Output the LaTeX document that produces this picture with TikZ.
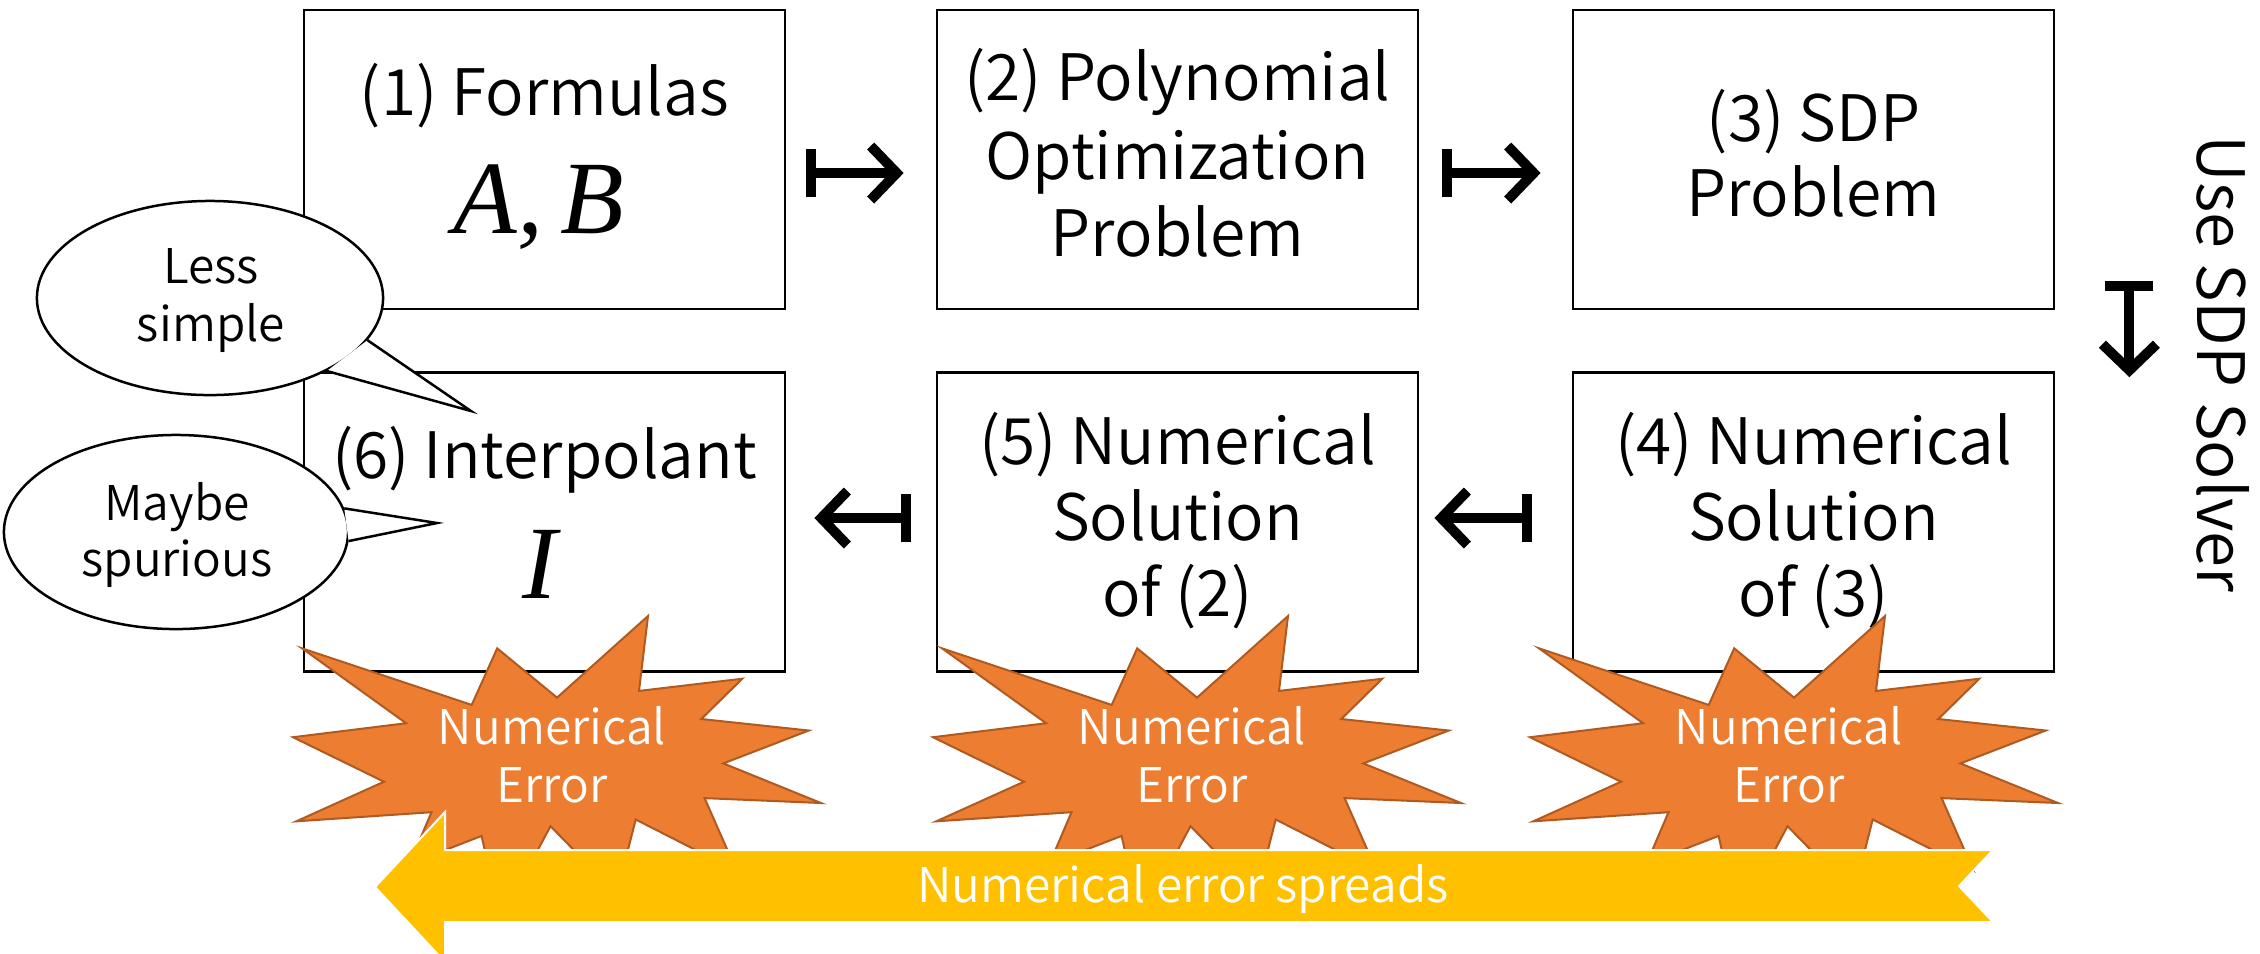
\documentclass[tikz,border=0pt]{standalone}
\usepackage{fontspec}
\IfFontExistsTF{Noto Sans CJK JP DemiLight}
  {\newfontfamily\jpfont{Noto Sans CJK JP DemiLight}}
  {\newfontfamily\jpfont{Noto Sans CJK JP}}
\newfontfamily\serifit{Liberation Serif}
\usetikzlibrary{arrows.meta,calc,shapes.geometric}
\definecolor{burstfill}{HTML}{ED7D31}
\definecolor{burstline}{HTML}{AE5A21}
\definecolor{spreadfill}{HTML}{FFC000}

\tikzset{
  stagebox/.style={draw=black, line width=0.025cm, minimum width=4.81cm,
    minimum height=2.99cm, inner sep=0pt},
  boxline/.style={font=\jpfont\fontsize{18.2}{22}\selectfont, anchor=base, inner sep=0pt},
  varline/.style={font=\serifit\itshape\fontsize{29.6}{35}\selectfont, anchor=base, inner sep=0pt},
  mapsarrow/.style={line width=0.1cm,
    arrows={Bar[width=0.48cm]-Straight Barb[length=0.26cm,width=0.54cm]}},
  bubble/.style={ellipse, draw=black, fill=white, line width=0.025cm, inner sep=0pt},
  bubtail/.style={draw=black, line width=0.025cm, line join=miter},
  bubtext/.style={font=\jpfont\fontsize{13.6}{16}\selectfont, anchor=base, inner sep=0pt},
  burstshape/.style={fill=burstfill, draw=burstline, line width=0.02cm, line join=miter},
  bursttext/.style={font=\jpfont\fontsize{13.6}{16}\selectfont, text=white, anchor=base, inner sep=0pt},
}

% explosion outline, origin at its top-left corner (528 x 304 px)
\newcommand\burst[2]{%
  \draw[burstshape, shift={(#1,#2)}]
    (264.0,81.6) -- (355.0,0) -- (346.0,74.9) -- (449.3,62.7) -- (408.3,103.0)
    -- (515.7,114.5) -- (430.4,147.4) -- (528.0,187.0) -- (411.6,182.1)
    -- (443.5,254.7) -- (342.7,203.5) -- (323.8,277.8) -- (257.5,210.2)
    -- (207.4,304.0) -- (188.6,219.9) -- (116.4,247.9) -- (138.5,196.2)
    -- (3.3,205.3) -- (91.0,165.7) -- (0,121.2) -- (113.1,107.2)
    -- (9.0,32.3) -- (178.7,88.9) -- (204.2,32.3) -- cycle;}

\begin{document}
\begin{tikzpicture}[x=0.01cm, y=-0.01cm]
\useasboundingbox (0,0) rectangle (2260,953);
\clip (0,0) rectangle (2260,953);

% stage boxes
\node[stagebox] (box1) at (544.5,159.5) {};
\node[stagebox] (box2) at (1177.5,159.5) {};
\node[stagebox] (box3) at (1813.5,159.5) {};
\node[stagebox] (box6) at (544.5,522) {};
\node[stagebox] (box5) at (1177.5,522) {};
\node[stagebox] (box4) at (1813.5,522) {};

% box contents
\node[boxline] (t1a) at (544.5,115) {(1) Formulas};
\node[varline] (t1b) at (539,233) {A,\,B};
\node[boxline] (t2a) at (1177.5,100) {(2) Polynomial};
\node[boxline] (t2b) at (1177.5,179) {Optimization};
\node[boxline] (t2c) at (1177.5,256) {Problem};
\node[boxline] (t3a) at (1813.5,141) {(3) SDP};
\node[boxline] (t3b) at (1813.5,216) {Problem};
\node[boxline] (t4a) at (1813.5,464) {(4) Numerical};
\node[boxline] (t4b) at (1813.5,540) {Solution};
\node[boxline] (t4c) at (1813.5,616) {of (3)};
\node[boxline] (t5a) at (1177.5,464) {(5) Numerical};
\node[boxline] (t5b) at (1177.5,540) {Solution};
\node[boxline] (t5c) at (1177.5,616) {of (2)};
\node[boxline] (t6a) at (544.5,478) {(6) Interpolant};
\node[varline] (t6b) at (540,598) {I};

% maps-to connectors
\draw[mapsarrow] ($(box1.east)+(20,13.5)$) -- ($(box2.west)+(-32,13.5)$);
\draw[mapsarrow] ($(box2.east)+(23,13.5)$) -- ($(box3.west)+(-31,13.5)$);
\draw[mapsarrow] ($(box3.south east)+(74,-29)$) -- ($(box4.north east)+(74,6)$);
\draw[mapsarrow] ($(box4.west)+(-40,-4)$) -- ($(box5.east)+(15,-4)$);
\draw[mapsarrow] ($(box5.west)+(-25,-4)$) -- ($(box6.east)+(28,-4)$);

\node[font=\jpfont\fontsize{18.6}{22}\selectfont, rotate=-90, anchor=base, inner sep=0pt]
  (solver) at (2197,364) {Use SDP Solver};

% speech bubbles
\node[bubble, minimum width=3.46cm, minimum height=1.94cm] (bub1) at (210,298) {};
\fill[white] (bub1.-15.8) -- (471,411) -- (bub1.-32.4) -- cycle;
\draw[bubtail] (bub1.-15.8) -- (471,411) -- (bub1.-32.4);
\node[bubtext] (bub1a) at (211,283) {Less};
\node[bubtext] (bub1b) at (211,341) {simple};

\node[bubble, minimum width=3.44cm, minimum height=1.94cm] (bub2) at (176,532) {};
\fill[white] (bub2.8.2) -- (437,523) -- (bub2.-3.7) -- cycle;
\draw[bubtail] (bub2.8.2) -- (437,523) -- (bub2.-3.7);
\node[bubtext] (bub2a) at (177,520) {Maybe};
\node[bubtext] (bub2b) at (177,576) {spurious};

% numerical error explosions
\burst{293}{616}
\burst{933}{616}
\burst{1530}{616}
\node[bursttext] (e1a) at (552,744) {Numerical};
\node[bursttext] (e1b) at (552,802) {Error};
\node[bursttext] (e2a) at (1192,744) {Numerical};
\node[bursttext] (e2b) at (1192,802) {Error};
\node[bursttext] (e3a) at (1789,744) {Numerical};
\node[bursttext] (e3b) at (1789,802) {Error};

% error propagation arrow
\draw[fill=spreadfill, draw=white, line width=0.02cm, line join=miter]
  (375,887) -- (445,812) -- (445,850) -- (1993,850) -- (1959,886)
  -- (1993,922) -- (445,922) -- (445,962) -- cycle;
\node[bursttext] (spread) at (1183,902) {Numerical error spreads};
\end{tikzpicture}
\end{document}
